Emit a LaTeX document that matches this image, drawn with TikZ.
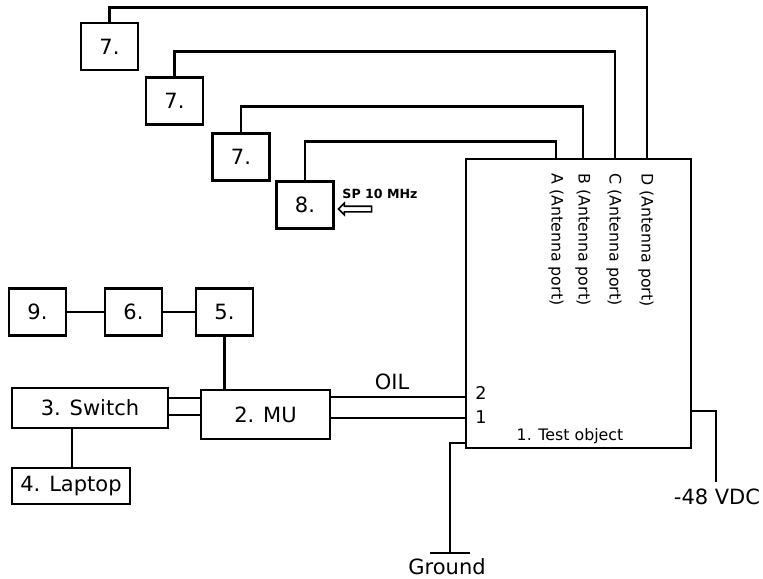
\documentclass[tikz,border=0pt]{standalone}
\usepackage{fontspec}
\setmainfont{DejaVu Sans}
\usetikzlibrary{positioning, shapes.arrows}

\begin{document}
\begin{tikzpicture}[
	x=0.5pt, y=-0.5pt,
	line width=1.45pt,
	blk/.style={draw, minimum width=28.5pt, minimum height=23.5pt, inner sep=0pt, font=\fontsize{10.5}{12}\selectfont},
	port/.style={rotate=-90, anchor=west, inner sep=0pt, font=\fontsize{7.9}{9}\selectfont},
	txt/.style={inner sep=0pt, font=\fontsize{10.5}{12}\selectfont}
	]
	\path[use as bounding box] (0,0) rectangle (763,578);
	% test object and its ports
	\node[draw, minimum width=112.5pt, minimum height=144.5pt] (test) at (578.5,303.5) {};
	\coordinate (pA) at (556,159);
	\coordinate (pB) at (583,159);
	\coordinate (pC) at (615,159);
	\coordinate (pD) at (647,159);
	\node[port] (labA) at (556,172) {A (Antenna port)};
	\node[port] (labB) at (583,172) {B (Antenna port)};
	\node[port] (labC) at (614,172) {C (Antenna port)};
	\node[port] (labD) at (646,172) {D (Antenna port)};
	\node[txt, font=\fontsize{7.9}{9}\selectfont] (tname) at (570,436) {1. Test object};
	% antennas
	\node[blk] (seven1) at (109.5,46.5) {7.};
	\node[blk] (seven2) at (174.5,101) {7.};
	\node[blk] (seven3) at (241,157) {7.};
	\node[blk] (eight) at (305,205) {8.};
	\draw (seven1.north) -- ++(0,-14.5) -| (pD);
	\draw (seven2.north) -- ++(0,-25) -| (pC);
	\draw (seven3.north) -- ++(0,-26) -| (pB);
	\draw (eight.north) -- ++(0,-39) -| (pA);
	\node[single arrow, draw, line width=0.8pt, inner sep=1pt, minimum width=5pt,
		minimum height=16.5pt, single arrow head extend=1.5pt, shape border rotate=180] (sparrow) at (356.5,209) {};
	\node[txt, font=\fontsize{6.3}{7}\selectfont\bfseries] (sp) at (380,194) {SP 10 MHz};
	% measurement chain
	\node[blk] (nine) at (37.5,312) {9.};
	\node[blk] (six) at (133.5,312) {6.};
	\node[blk] (five) at (224.5,312) {5.};
	\node[blk, minimum width=78pt, minimum height=20pt] (switch) at (90,408) {3. Switch};
	\node[blk, minimum width=64.5pt, minimum height=24.5pt] (mu) at (265.5,414.5) {2. MU};
	\node[blk, minimum width=59pt, minimum height=18pt] (laptop) at (71,486) {4. Laptop};
	\draw (nine) -- (six);
	\draw (six) -- (five);
	\draw (five.south) -- (five.south |- mu.north);
	\draw (switch.east |- 0,398) -- (mu.west |- 0,398);
	\draw (switch.east |- 0,415) -- (mu.west |- 0,415);
	\draw (switch.south -| 72,0) -- (laptop.north -| 72,0);
	\draw (mu.east |- 0,397) -- (test.west |- 0,397);
	\draw (mu.east |- 0,418) -- (test.west |- 0,418);
	\node[txt] (oil) at (392,382) {OIL};
	\node[txt, font=\fontsize{8.8}{10}\selectfont] (two) at (481,393) {2};
	\node[txt, font=\fontsize{8.8}{10}\selectfont] (one) at (481,417) {1};
	% supply
	\coordinate (gnd) at (450,553);
	\coordinate (vdc) at (716,482);
	\draw (test.west |- 0,443) -| (gnd);
	\draw (gnd) ++(-20,0) -- ++(40,0);
	\node[txt] (ground) at (447,567) {Ground};
	\draw (test.east |- 0,411) -| (vdc);
	\node[txt] (minus) at (717,497) {-48 VDC};
\end{tikzpicture}
\end{document}
